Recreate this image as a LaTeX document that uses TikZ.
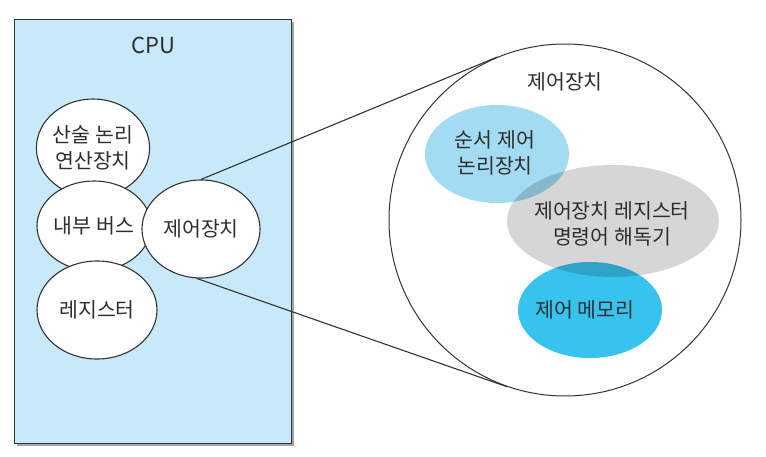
\documentclass[tikz,border=0pt]{standalone}
\usepackage{fontspec}
\setmainfont{Noto Sans CJK KR}
\usetikzlibrary{shapes.geometric,calc}
\definecolor{cpu}{HTML}{C8E9F9}
\definecolor{line}{HTML}{333333}
\definecolor{txt}{HTML}{2E2E2E}
\definecolor{seqc}{HTML}{A3DBF3}
\definecolor{grayc}{HTML}{D6D6D6}
\definecolor{memc}{HTML}{38C3EE}
\begin{document}
\begin{tikzpicture}[x=1pt,y=-1pt,
 lbl/.style={font=\fontsize{20.5}{26}\selectfont, text=txt, align=center},
 unit/.style={ellipse, draw=line, line width=1.1pt, fill=white, inner sep=0pt, lbl},
 part/.style={ellipse, inner sep=0pt, lbl},
 link/.style={draw=line, line width=1.1pt}]
\useasboundingbox (0,0) rectangle (766,457);
% CPU box with shadow
\fill[black!35] (17,22) rectangle (294,446);
\node[draw=line, line width=1.2pt, fill=cpu, minimum width=277pt, minimum height=424pt,
      inner sep=0pt, anchor=north west] (cpu) at (14,19) {};
\node[lbl, font=\fontsize{22}{26}\selectfont] (cputitle) at (153,45) {CPU};
% units
\node[unit, minimum width=112pt, minimum height=98pt] (alu) at (93,148) {산술 논리\\연산장치};
\node[unit, minimum width=114pt, minimum height=90pt] (bus) at (94,226) {내부 버스};
\node[unit, minimum width=120pt, minimum height=98pt] (reg) at (97,310) {레지스터};
\node[unit, minimum width=118pt, minimum height=98pt] (ctrl) at (201,229) {제어장치};
% zoomed control unit
\node[circle, draw=line, line width=1pt, minimum size=352pt, inner sep=0pt] (big) at (565,220) {};
\node[lbl] (bigtitle) at (565,82) {제어장치};
\begin{scope}[blend mode=multiply]
\node[part, fill=seqc, minimum width=144pt, minimum height=98pt] (seq) at (497,154) {};
\end{scope}
\begin{scope}[blend mode=multiply]
\node[part, fill=grayc, minimum width=212pt, minimum height=112pt] (dec) at (613,221) {};
\end{scope}
\begin{scope}[blend mode=multiply]
\node[part, fill=memc, minimum width=144pt, minimum height=96pt] (mem) at (590,310) {};
\end{scope}
\node[lbl] (seqt) at (495,153) {순서 제어\\논리장치};
\node[lbl] (dect) at (612,224) {제어장치 레지스터\\명령어 해독기};
\node[lbl] (memt) at (585,310) {제어 메모리};
% zoom lines
\draw[link] (ctrl.north) -- (tangent cs:node=big,point={(ctrl.north)},solution=2);
\draw[link] (ctrl.-95) -- (tangent cs:node=big,point={(ctrl.-95)},solution=1);
\end{tikzpicture}
\end{document}
